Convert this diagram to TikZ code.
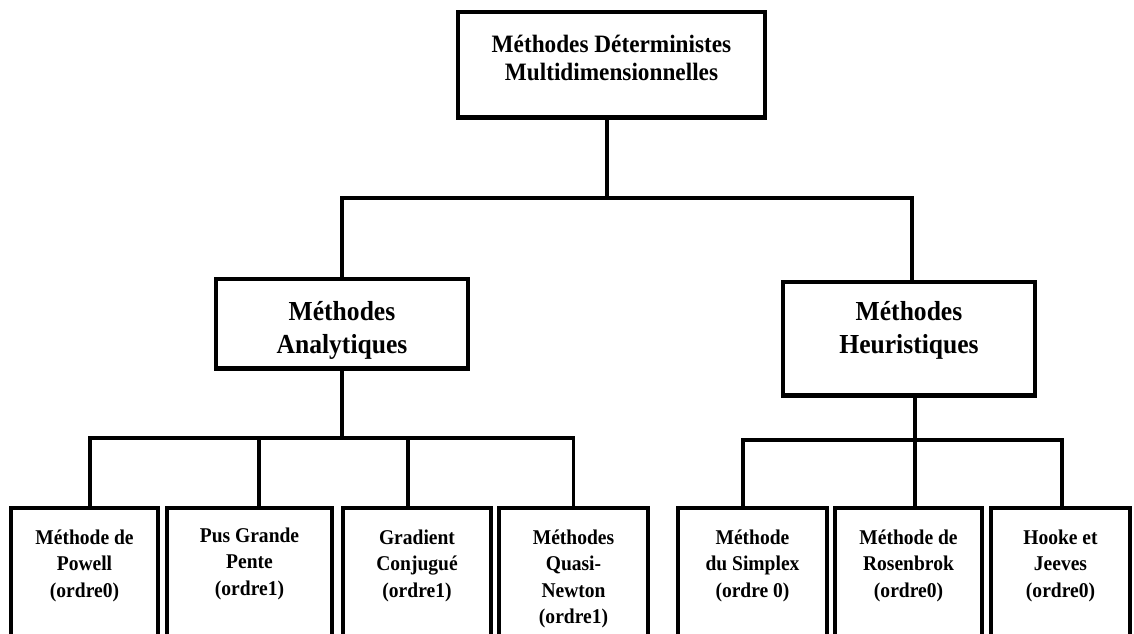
\documentclass[tikz,border=0pt]{standalone}
\usepackage{fontspec}
\setmainfont{Liberation Serif}[FakeStretch=0.93]
\begin{document}
\begin{tikzpicture}[x=1pt,y=-1pt,
  box/.style={draw=black, line width=4.6pt, inner sep=0pt, outer sep=0pt, align=center, anchor=north},
  topfont/.style={font=\bfseries\fontsize{25}{28.5}\selectfont},
  midfont/.style={font=\bfseries\fontsize{27.5}{33.5}\selectfont},
  lowfont/.style={font=\bfseries\fontsize{21}{26.5}\selectfont},
  conn/.style={draw=black, line width=3.8pt}]
\useasboundingbox (0,0) rectangle (1134,633);
\clip (0,0) rectangle (1134,633);

% top
\node[box, topfont, minimum width=307pt] (top) at (611.5,12)
  {\rule{0pt}{40pt}Méthodes Déterministes\\Multidimensionnelles\rule[-37pt]{0pt}{0pt}};

% middle
\node[box, midfont, minimum width=252pt] (ana) at (342,279)
  {\rule{0pt}{41pt}Méthodes\\Analytiques\rule[-15pt]{0pt}{0pt}};
\node[box, midfont, minimum width=252pt] (heu) at (909,282)
  {\rule{0pt}{38pt}Méthodes\\Heuristiques\rule[-42pt]{0pt}{0pt}};

% bottom
\node[box, lowfont, minimum width=147pt] (pow) at (84.5,508)
  {\rule{0pt}{36pt}Méthode de\\Powell\\(ordre0)\rule[-50pt]{0pt}{0pt}};
\node[box, lowfont, minimum width=165pt] (pus) at (249.5,508)
  {\rule{0pt}{34pt}Pus Grande\\Pente\\(ordre1)\rule[-50pt]{0pt}{0pt}};
\node[box, lowfont, minimum width=148pt] (gra) at (417,508)
  {\rule{0pt}{36pt}Gradient\\Conjugué\\(ordre1)\rule[-50pt]{0pt}{0pt}};
\node[box, lowfont, minimum width=149pt] (qua) at (573.5,508)
  {\rule{0pt}{36pt}Méthodes\\Quasi-\\Newton\\(ordre1)\rule[-24pt]{0pt}{0pt}};
\node[box, lowfont, minimum width=149pt] (sim) at (752.5,508)
  {\rule{0pt}{36pt}Méthode\\du Simplex\\(ordre 0)\rule[-50pt]{0pt}{0pt}};
\node[box, lowfont, minimum width=147pt] (ros) at (908.5,508)
  {\rule{0pt}{36pt}Méthode de\\Rosenbrok\\(ordre0)\rule[-50pt]{0pt}{0pt}};
\node[box, lowfont, minimum width=139pt] (hoo) at (1060.5,508)
  {\rule{0pt}{36pt}Hooke et\\Jeeves\\(ordre0)\rule[-50pt]{0pt}{0pt}};

% connectors
\coordinate (busT) at (607,198);
\coordinate (busA) at (342,438);
\coordinate (busH) at (915,440);

\draw[conn] ([xshift=-4.5pt]top.south) -- (busT);
\draw[conn] (busT) -| (ana.north);
\draw[conn] (busT) -| ([xshift=3pt]heu.north);

\draw[conn] (ana.south) -- (busA);
\draw[conn] (busA) -| ([xshift=5.5pt]pow.north);
\draw[conn] (busA) -| ([xshift=9.5pt]pus.north);
\draw[conn] (busA) -| ([xshift=-9pt]gra.north);
\draw[conn] (busA) -| (qua.north);

\draw[conn] ([xshift=6pt]heu.south) -- (busH);
\draw[conn] (busH) -| ([xshift=-9.5pt]sim.north);
\draw[conn] (busH) -| ([xshift=6.5pt]ros.north);
\draw[conn] (busH) -| ([xshift=1.5pt]hoo.north);
\end{tikzpicture}
\end{document}
